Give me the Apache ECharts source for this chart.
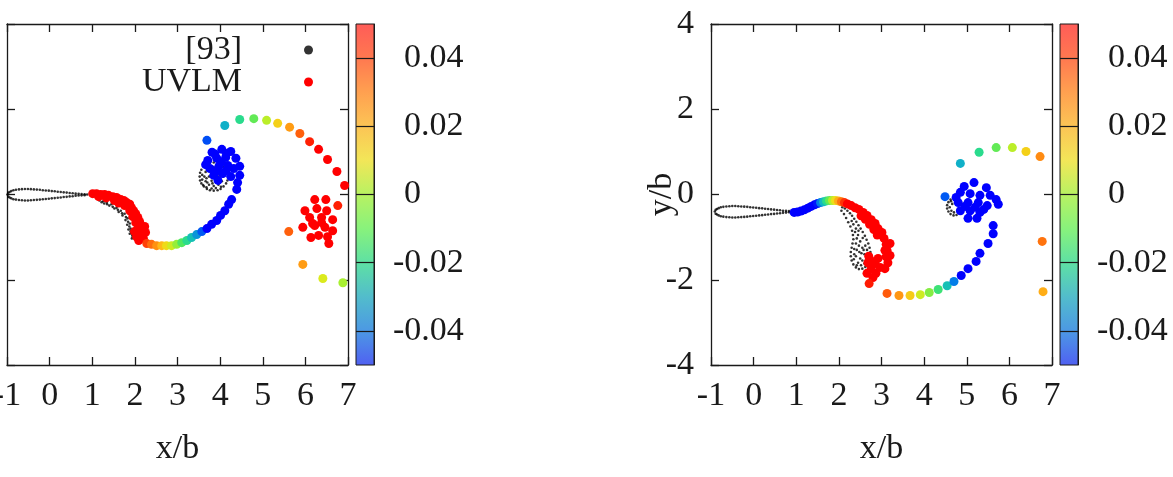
<!DOCTYPE html>
<html>
<head>
<meta charset="utf-8">
<script src="https://cdn.jsdelivr.net/npm/echarts@6.0.0/dist/echarts.min.js"></script>
<style>
  html, body { margin: 0; padding: 0; background: #fff; }
  #chart { width: 1173px; height: 477px; }
</style>
</head>
<body>
<div id="chart"></div>
<script>
// ---- data: [x/b, y/b] for [93], [x/b, y/b, Gamma] for UVLM ----
const cbTicks = [-0.04, -0.02, 0, 0.02, 0.04];

// left panel, reference [93] (small black dots)
const airfoilLeft = [
  [-0.99,0.00],[-0.97,0.04],[-0.94,0.06],[-0.90,0.08],[-0.85,0.10],[-0.79,0.11],[-0.72,0.12],[-0.65,0.125],
  [-0.58,0.13],[-0.51,0.13],[-0.44,0.125],[-0.37,0.12],[-0.30,0.115],[-0.23,0.11],[-0.16,0.10],[-0.09,0.095],
  [-0.02,0.09],[0.05,0.08],[0.12,0.075],[0.19,0.065],[0.26,0.06],[0.33,0.05],[0.40,0.045],[0.47,0.035],
  [0.54,0.03],[0.61,0.02],[0.68,0.015],[0.75,0.01],[0.82,0.005],[0.88,0.0],
  [-0.97,-0.05],[-0.94,-0.07],[-0.90,-0.09],[-0.85,-0.11],[-0.79,-0.12],[-0.72,-0.13],[-0.65,-0.135],
  [-0.58,-0.14],[-0.51,-0.14],[-0.44,-0.135],[-0.37,-0.13],[-0.30,-0.125],[-0.23,-0.12],[-0.16,-0.11],
  [-0.09,-0.105],[-0.02,-0.10],[0.05,-0.09],[0.12,-0.085],[0.19,-0.075],[0.26,-0.07],[0.33,-0.06],
  [0.40,-0.055],[0.47,-0.045],[0.54,-0.04],[0.61,-0.03],[0.68,-0.025],[0.75,-0.02],[0.82,-0.015]
];
const wakeRefLeft = [
  [1.17,-0.14],[1.26,-0.16],[1.34,-0.19],[1.45,-0.23],[1.57,-0.31],[1.67,-0.38],[1.76,-0.45],[1.83,-0.56],
  [1.88,-0.68],[1.90,-0.80],[1.92,-0.89],[1.95,-0.98],[1.28,-0.21],[1.40,-0.26],[1.52,-0.33],[1.62,-0.41],
  [1.71,-0.49],[1.78,-0.60],[1.82,-0.71],[1.85,-0.82],[1.88,-0.92],[1.93,-1.03],
  [1.22,-0.18],[1.35,-0.23],[1.48,-0.29],[1.60,-0.36],[1.70,-0.44],[1.79,-0.53],[1.84,-0.64],[1.87,-0.75],
  [1.90,-0.86],[1.94,-0.95]
];
const vortexRefLeft = [
  [4.18,0.42],[4.14,0.58],[4.01,0.71],[3.85,0.75],[3.69,0.71],[3.56,0.58],[3.52,0.42],[3.56,0.26],
  [3.69,0.13],[3.85,0.09],[4.01,0.13],[4.14,0.26],[4.17,0.51],[4.08,0.65],[3.94,0.74],[3.76,0.74],
  [3.62,0.65],[3.53,0.51],[3.53,0.33],[3.62,0.19],[3.76,0.10],[3.94,0.10],[4.08,0.19],[4.17,0.33],
  [4.07,0.42],[4.04,0.53],[3.96,0.61],[3.85,0.64],[3.74,0.61],[3.66,0.53],[3.63,0.42],[3.66,0.31],
  [3.74,0.23],[3.85,0.20],[3.96,0.23],[4.04,0.31],[3.96,0.42],[3.91,0.52],[3.80,0.52],[3.74,0.42],
  [3.80,0.32],[3.91,0.32],[3.58,0.35],[3.60,0.22],[3.68,0.17],[3.80,0.14],[3.90,0.15],[4.02,0.18],
  [3.70,0.28],[3.82,0.26],[3.58,0.46],[3.68,0.38]
];

// left panel, UVLM
const uvlmLeft = [
  [1.01,0.02,0.05],[1.10,0.02,0.05],[1.20,0.00,0.05],[1.29,0.00,0.05],[1.38,-0.02,0.05],[1.48,-0.05,0.05],
  [1.57,-0.07,0.05],[1.67,-0.12,0.05],[1.74,-0.14,0.05],[1.81,-0.19,0.05],[1.88,-0.23,0.05],[1.92,-0.31,0.05],
  [1.97,-0.38,0.05],[2.02,-0.45,0.05],[2.07,-0.54,0.05],[2.11,-0.63,0.05],[2.14,-0.73,0.05],[2.16,-0.82,0.05],
  [2.18,-0.92,0.05],[2.14,-1.01,0.05],[2.09,-1.08,0.05],[1.76,-0.26,0.05],[1.88,-0.38,0.05],[1.95,-0.52,0.05],
  [2.02,-0.66,0.05],[2.07,-0.80,0.05],[2.23,-0.75,0.05],[2.25,-0.89,0.05],[2.20,-1.03,0.05],[2.04,-0.99,0.05],
  [1.99,-0.87,0.05],[1.15,-0.05,0.05],[1.33,-0.08,0.05],[1.52,-0.14,0.05],[1.62,-0.20,0.05],
  [2.28,-1.15,0.04],[2.39,-1.17,0.033],[2.51,-1.20,0.027],[2.63,-1.20,0.02],[2.74,-1.20,0.013],
  [2.86,-1.20,0.006],[2.98,-1.17,-0.002],[3.10,-1.13,-0.01],[3.22,-1.08,-0.018],[3.33,-1.01,-0.026],
  [3.45,-0.94,-0.034],[3.57,-0.87,-0.042],[3.69,-0.80,-0.05],[3.80,-0.70,-0.05],[3.92,-0.61,-0.05],
  [4.01,-0.49,-0.05],[4.11,-0.38,-0.05],[4.20,-0.23,-0.05],[4.27,-0.12,-0.05],[4.39,0.12,-0.05],
  [4.41,0.28,-0.05],[4.46,0.45,-0.05],[4.46,0.66,-0.05],
  [3.81,0.99,-0.05],[4.04,1.06,-0.05],[4.25,1.01,-0.05],[4.37,0.85,-0.05],[3.71,0.80,-0.05],[3.92,0.85,-0.05],
  [4.13,0.87,-0.05],[3.76,0.61,-0.05],[3.97,0.66,-0.05],[4.18,0.68,-0.05],[4.32,0.61,-0.05],[3.85,0.45,-0.05],
  [4.06,0.49,-0.05],[4.25,0.42,-0.05],[3.95,0.33,-0.05],[3.88,0.95,-0.05],[4.15,0.96,-0.05],[3.66,0.70,-0.05],
  [4.02,0.76,-0.05],[3.92,0.55,-0.05],[4.14,0.56,-0.05],[3.69,1.27,-0.043],
  [4.11,1.62,-0.03],[4.46,1.76,-0.018],[4.79,1.78,-0.008],[5.09,1.74,0.003],[5.35,1.67,0.015],
  [5.63,1.58,0.025],[5.87,1.43,0.035],[6.10,1.24,0.045],[6.31,1.06,0.05],[6.52,0.82,0.05],
  [6.74,0.54,0.05],[6.92,0.21,0.05],
  [6.22,-0.12,0.05],[6.48,-0.12,0.05],[6.76,-0.26,0.045],[5.99,-0.38,0.05],[6.27,-0.33,0.05],[6.50,-0.38,0.05],
  [6.10,-0.54,0.05],[6.38,-0.54,0.05],[6.64,-0.59,0.05],[5.94,-0.77,0.05],[6.22,-0.73,0.05],[6.46,-0.77,0.05],
  [6.64,-0.85,0.05],[6.13,-1.01,0.05],[6.31,-0.96,0.05],[6.52,-0.99,0.05],[6.55,-1.15,0.05],[6.17,-0.68,0.05],
  [6.38,-0.66,0.05],
  [5.61,-0.87,0.035],[5.94,-1.64,0.025],[6.41,-1.97,0.008],[6.88,-2.07,0.0]
];

// right panel, reference [93]
const airfoilRight = [
  [-0.91,-0.40],[-0.89,-0.36],[-0.86,-0.34],[-0.82,-0.32],[-0.77,-0.30],[-0.71,-0.29],[-0.64,-0.28],
  [-0.57,-0.275],[-0.50,-0.27],[-0.43,-0.27],[-0.36,-0.275],[-0.29,-0.28],[-0.22,-0.285],[-0.15,-0.29],
  [-0.08,-0.30],[-0.01,-0.305],[0.06,-0.31],[0.13,-0.32],[0.20,-0.325],[0.27,-0.335],[0.34,-0.34],
  [0.41,-0.35],[0.48,-0.355],[0.55,-0.365],[0.62,-0.37],[0.69,-0.38],[0.76,-0.385],[0.83,-0.39],[0.90,-0.40],
  [-0.89,-0.45],[-0.86,-0.47],[-0.82,-0.49],[-0.77,-0.51],[-0.71,-0.52],[-0.64,-0.53],[-0.57,-0.535],
  [-0.50,-0.54],[-0.43,-0.54],[-0.36,-0.535],[-0.29,-0.53],[-0.22,-0.525],[-0.15,-0.52],[-0.08,-0.51],
  [-0.01,-0.505],[0.06,-0.50],[0.13,-0.49],[0.20,-0.485],[0.27,-0.475],[0.34,-0.47],[0.41,-0.46],
  [0.48,-0.455],[0.55,-0.445],[0.62,-0.44],[0.69,-0.43],[0.76,-0.425],[0.83,-0.415]
];
const wakeRefRight = [
  [2.08,-0.30],[2.14,-0.33],[2.20,-0.38],[2.26,-0.44],[2.31,-0.50],[2.36,-0.57],[2.41,-0.64],[2.46,-0.72],
  [2.51,-0.80],[2.56,-0.88],[2.61,-0.97],[2.65,-1.06],[2.69,-1.15],[2.72,-1.25],[2.74,-1.35],[2.74,-1.45],
  [2.72,-1.55],[2.68,-1.63],[2.62,-1.70],[2.55,-1.74],[2.47,-1.75],[2.40,-1.71],[2.34,-1.64],[2.30,-1.55],
  [2.28,-1.45],[2.28,-1.35],[2.30,-1.25],[2.32,-1.15],[2.34,-1.05],[2.33,-0.95],[2.31,-0.85],[2.27,-0.75],
  [2.22,-0.65],[2.17,-0.55],[2.12,-0.46],[2.06,-0.38],
  [2.40,-0.80],[2.45,-0.95],[2.50,-1.10],[2.55,-1.25],[2.60,-1.40],[2.55,-1.55],[2.45,-1.60],[2.40,-1.45],
  [2.42,-1.30],[2.40,-1.15],[2.62,-1.20],[2.48,-1.35],[2.36,-1.40],[2.50,-1.50],[2.65,-1.50],
  [2.34,-0.70],[2.38,-0.88],[2.42,-1.03],[2.47,-1.20],[2.53,-1.38],[2.58,-1.30],[2.66,-1.30],[2.36,-1.28],
  [2.35,-1.52],[2.42,-1.66],[2.52,-1.66],[2.60,-1.62],[2.67,-1.42],[2.56,-1.02],[2.46,-0.85],[2.30,-0.62]
];
const vortexRefRight = [
  [4.62,-0.12],[4.57,-0.18],[4.54,-0.25],[4.54,-0.33],[4.57,-0.40],[4.62,-0.46],[4.69,-0.49],[4.76,-0.48],
  [4.60,-0.30],[4.64,-0.38],[4.70,-0.42],[4.66,-0.22],[4.63,-0.16]
];

// right panel, UVLM
const uvlmRight = [
  [0.95,-0.42,-0.05],[1.03,-0.41,-0.05],[1.11,-0.39,-0.05],[1.19,-0.36,-0.05],[1.27,-0.32,-0.05],
  [1.35,-0.28,-0.05],[1.43,-0.24,-0.05],
  [1.50,-0.21,-0.048],[1.57,-0.19,-0.038],[1.64,-0.17,-0.028],[1.71,-0.15,-0.018],[1.78,-0.14,-0.008],
  [1.85,-0.14,0.002],[1.92,-0.14,0.012],[1.99,-0.15,0.022],[2.06,-0.17,0.032],[2.13,-0.19,0.042],
  [2.20,-0.22,0.05],[2.29,-0.26,0.05],[2.38,-0.31,0.05],[2.47,-0.35,0.05],[2.57,-0.42,0.05],[2.66,-0.49,0.05],
  [2.76,-0.59,0.05],[2.85,-0.68,0.05],[2.92,-0.80,0.05],[2.99,-0.92,0.05],[3.06,-1.03,0.05],[3.11,-1.17,0.05],
  [3.13,-1.31,0.05],[3.11,-1.46,0.05],[2.52,-0.50,0.05],[2.62,-0.58,0.05],[2.72,-0.70,0.05],[2.82,-0.82,0.05],
  [2.90,-0.95,0.05],
  [3.01,-0.89,0.05],[3.20,-1.15,0.05],[3.08,-1.31,0.05],[3.20,-1.43,0.05],[2.92,-1.50,0.05],[3.15,-1.60,0.05],
  [2.85,-1.62,0.05],[2.97,-1.71,0.05],[2.76,-1.74,0.05],[3.08,-1.74,0.05],[2.87,-1.85,0.05],[2.80,-1.95,0.05],
  [2.71,-2.09,0.046],[2.70,-1.45,0.05],[2.68,-1.60,0.05],[2.66,-1.85,0.05],[2.75,-1.55,0.05],
  [3.13,-2.32,0.036],[3.41,-2.37,0.026],[3.67,-2.37,0.016],[3.91,-2.35,0.006],[4.12,-2.30,-0.004],
  [4.33,-2.23,-0.014],[4.54,-2.14,-0.026],[4.70,-2.04,-0.038],[4.87,-1.90,-0.05],[5.03,-1.74,-0.05],
  [5.22,-1.57,-0.05],[5.31,-1.38,-0.05],[5.50,-1.15,-0.05],[5.62,-0.92,-0.05],[5.62,-0.73,-0.05],
  [5.17,0.28,-0.05],[5.46,0.16,-0.05],[4.85,0.05,-0.05],[5.08,0.02,-0.05],[5.31,-0.02,-0.05],[5.69,-0.12,-0.05],
  [5.74,-0.23,-0.05],[4.80,-0.19,-0.05],[5.03,-0.19,-0.05],[5.27,-0.19,-0.05],[5.48,-0.26,-0.05],[4.85,-0.38,-0.05],
  [5.08,-0.38,-0.05],[5.31,-0.42,-0.05],[5.03,-0.56,-0.05],[5.24,-0.56,-0.05],[4.75,-0.07,-0.05],[4.94,0.19,-0.05],
  [5.55,-0.02,-0.05],[5.20,-0.30,-0.05],[4.96,-0.28,-0.05],[5.40,-0.35,-0.05],[4.49,-0.05,-0.042],
  [4.85,0.73,-0.03],[5.29,0.99,-0.018],[5.69,1.10,-0.008],[6.07,1.10,0.003],[6.39,1.01,0.015],[6.72,0.89,0.028],
  [6.77,-1.10,0.032],[6.79,-2.28,0.022]
];

// ---- styling ----
const FONT = "'Liberation Serif', 'Times New Roman', serif";
const INK = '#1a1a1a';
const FS = 34;

const pointColors = ['#0000ff', '#0070f0', '#10b0c8', '#20d898', '#50e860', '#a8f030',
                     '#e8e818', '#ffb818', '#ff8010', '#ff4008', '#ff0000'];
const barGradient = {
  type: 'linear', x: 0, y: 0, x2: 0, y2: 1,
  colorStops: [
    { offset: 0.0, color: '#ff5c58' }, { offset: 0.1, color: '#ff7850' },
    { offset: 0.2, color: '#ffa050' }, { offset: 0.3, color: '#fcc455' },
    { offset: 0.4, color: '#f2e658' }, { offset: 0.5, color: '#b8f262' },
    { offset: 0.6, color: '#88f27c' }, { offset: 0.7, color: '#5ee0a4' },
    { offset: 0.8, color: '#52bccc' }, { offset: 0.9, color: '#4c98e4' },
    { offset: 1.0, color: '#5060f2' }
  ]
};

const lineStyle = { color: INK, width: 1.3 };
const textStyle = { fontSize: FS, fontFamily: FONT, color: INK };

function frameX(grid, pos, labels) {
  return {
    gridIndex: grid, type: 'value', position: pos, min: -1, max: 7, interval: 1,
    axisLine: { show: true, onZero: false, lineStyle },
    axisTick: { show: true, inside: true, length: 8, lineStyle },
    axisLabel: Object.assign({ show: labels, margin: 14 }, textStyle),
    splitLine: { show: false },
    name: labels ? 'x/b' : '', nameLocation: 'middle', nameGap: 67, nameMoveOverlap: false,
    nameTextStyle: textStyle
  };
}
function frameY(grid, pos, labels, name) {
  return {
    gridIndex: grid, type: 'value', position: pos, min: -4, max: 4, interval: 2,
    axisLine: { show: true, onZero: false, lineStyle },
    axisTick: { show: true, inside: true, length: 8, lineStyle },
    axisLabel: Object.assign({ show: labels, margin: 17 }, textStyle),
    splitLine: { show: false },
    name: name || '', nameLocation: 'middle', nameRotate: 90, nameGap: 32, nameMoveOverlap: false,
    nameTextStyle: textStyle
  };
}
function barX(grid) {
  return { gridIndex: grid, type: 'value', min: 0, max: 1, show: false };
}
function barY(grid) {
  return {
    gridIndex: grid, type: 'value', position: 'right', min: -0.05, max: 0.05, z: 5,
    axisLine: { show: true, onZero: false, lineStyle: { color: INK, width: 1 } },
    axisTick: { show: true, inside: true, length: 18, customValues: cbTicks,
                lineStyle: { color: INK, width: 1.2 } },
    axisLabel: {
      show: true, customValues: cbTicks, margin: 19,
      formatter: function (v) {
        const s = v === 0 ? '0' : String(+(+v).toFixed(2));
        return v < 0 ? '{n|' + s + '}' : '{p|' + s + '}';
      },
      rich: {
        n: Object.assign({}, textStyle),
        p: Object.assign({ padding: [0, 0, 0, 11] }, textStyle)
      }
    },
    splitLine: { show: false }
  };
}
function legendBox(item, top) {
  return {
    data: [item], right: 860, top: top, padding: 0, align: 'right', orient: 'vertical',
    icon: 'circle', itemWidth: 9, itemHeight: 9, selectedMode: false,
    textStyle: Object.assign({ padding: [0, 57, 0, 0], lineHeight: 34 }, textStyle)
  };
}
function panelGrid(left, width, bar) {
  const g = { left: left, top: 24, width: width, height: 341, outerBoundsMode: 'none', containLabel: false, z: 0 };
  if (bar) {
    g.show = true;
    g.backgroundColor = barGradient;
    g.borderColor = INK;
    g.borderWidth = 1;
  }
  return g;
}

const chart = echarts.init(document.getElementById('chart'), null, { renderer: 'canvas' });
chart.setOption({
  animation: false,
  backgroundColor: '#fff',
  grid: [
    panelGrid(7, 341, false),
    panelGrid(356, 18, true),
    panelGrid(711, 341, false),
    panelGrid(1060, 18, true)
  ],
  xAxis: [
    frameX(0, 'bottom', true), frameX(0, 'top', false), barX(1),
    frameX(2, 'bottom', true), frameX(2, 'top', false), barX(3)
  ],
  yAxis: [
    frameY(0, 'left', false), frameY(0, 'right', false), barY(1),
    frameY(2, 'left', true, 'y/b'), frameY(2, 'right', false), barY(3)
  ],
  legend: [
    legendBox({ name: '[93]', itemStyle: { color: '#000' } }, 33),
    legendBox({ name: 'UVLM', itemStyle: { color: '#ff0000' } }, 65)
  ],
  visualMap: {
    type: 'continuous', show: false, seriesIndex: [1, 3], dimension: 2,
    min: -0.05, max: 0.05, inRange: { color: pointColors }
  },
  series: [
    { type: 'scatter', name: '[93]', xAxisIndex: 0, yAxisIndex: 0, symbolSize: 2.6, silent: true,
      itemStyle: { color: '#000' }, z: 2,
      data: airfoilLeft.concat(wakeRefLeft, vortexRefLeft) },
    { type: 'scatter', name: 'UVLM', xAxisIndex: 0, yAxisIndex: 0, symbolSize: 9, silent: true,
      itemStyle: { color: '#ff0000', opacity: 1 }, z: 3, data: uvlmLeft },
    { type: 'scatter', name: '[93]', xAxisIndex: 3, yAxisIndex: 3, symbolSize: 2.6, silent: true,
      itemStyle: { color: '#000' }, z: 2,
      data: airfoilRight.concat(wakeRefRight, vortexRefRight) },
    { type: 'scatter', name: 'UVLM', xAxisIndex: 3, yAxisIndex: 3, symbolSize: 9, silent: true,
      itemStyle: { color: '#ff0000', opacity: 1 }, z: 3, data: uvlmRight }
  ]
});
</script>
</body>
</html>
